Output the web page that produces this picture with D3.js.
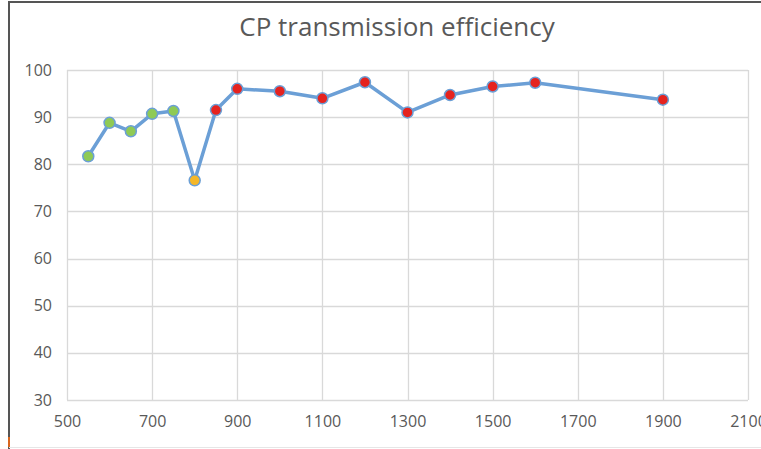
<!DOCTYPE html>
<html>
<head>
<meta charset="utf-8">
<script src="https://cdn.jsdelivr.net/npm/d3@7"></script>
<style>
  html, body { margin: 0; padding: 0; background: #fff; }
  svg { display: block; }
</style>
</head>
<body>
<div id="chart"></div>
<script>
// wavelength (x) and efficiency (y)
const xValues = [550, 600, 650, 700, 750, 800, 850, 900, 1000, 1100, 1200, 1300, 1400, 1500, 1600, 1900];
const yValues = [81.7, 88.8, 87.0, 90.7, 91.3, 76.6, 91.5, 96.0, 95.5, 94.0, 97.4, 91.0, 94.7, 96.5, 97.3, 93.7];
const pointGroups = ["g", "g", "g", "g", "g", "o", "r", "r", "r", "r", "r", "r", "r", "r", "r", "r"];
const xTicks = [500, 700, 900, 1100, 1300, 1500, 1700, 1900, 2100];
const yTicks = [30, 40, 50, 60, 70, 80, 90, 100];

const groupColor = {g: "#8fca55", o: "#f5b728", r: "#e5231f"};

const W = 761, H = 449;
const margin = {top: 70, right: 13, bottom: 49, left: 67};
const width = W - margin.left - margin.right;
const height = H - margin.top - margin.bottom;

const svg = d3.select("#chart")
    .append("svg")
    .attr("width", W)
    .attr("height", H);

// frame edges of the screenshot
svg.append("line").attr("x1", 9).attr("x2", W).attr("y1", 2).attr("y2", 2)
    .attr("stroke", "#555").attr("stroke-width", 2);
svg.append("line").attr("x1", 9).attr("x2", 9).attr("y1", 1).attr("y2", H)
    .attr("stroke", "#555").attr("stroke-width", 2);
svg.append("line").attr("x1", 9).attr("x2", W).attr("y1", 447.5).attr("y2", 447.5)
    .attr("stroke", "#e6e6e6").attr("stroke-width", 1);
svg.append("line").attr("x1", 9).attr("x2", 9).attr("y1", 437).attr("y2", 447)
    .attr("stroke", "#d9661e").attr("stroke-width", 2);

svg.append("text")
    .attr("x", 397).attr("y", 36)
    .attr("text-anchor", "middle")
    .attr("font-family", "'Open Sans', sans-serif")
    .attr("font-size", 26)
    .attr("fill", "#595959")
    .text("CP transmission efficiency");

const g = svg.append("g")
    .attr("transform", `translate(${margin.left},${margin.top})`);

const x = d3.scaleLinear().domain([500, 2100]).range([0, width]);
const y = d3.scaleLinear().domain([30, 100]).range([height, 0]);

// gridlines
g.append("g")
    .selectAll("line.h")
    .data(yTicks)
    .enter().append("line")
    .attr("x1", 0).attr("x2", width)
    .attr("y1", d => Math.round(y(d)) + 0.5).attr("y2", d => Math.round(y(d)) + 0.5)
    .attr("stroke", "#d9d9d9").attr("stroke-width", 1.3);

g.append("g")
    .selectAll("line.v")
    .data(xTicks)
    .enter().append("line")
    .attr("y1", 0).attr("y2", height)
    .attr("x1", d => Math.round(x(d)) + 0.5).attr("x2", d => Math.round(x(d)) + 0.5)
    .attr("stroke", "#d9d9d9").attr("stroke-width", 1.3);

// axes labels
const xAxis = g.append("g")
    .attr("transform", `translate(0,${height})`)
    .call(d3.axisBottom(x).tickValues(xTicks).tickSize(0).tickPadding(16).tickFormat(d3.format("d")));
const yAxis = g.append("g")
    .call(d3.axisLeft(y).tickValues(yTicks).tickSize(0).tickPadding(15));

[xAxis, yAxis].forEach(a => {
    a.select(".domain").remove();
    a.selectAll("text")
        .attr("font-family", "'Open Sans', sans-serif")
        .attr("font-size", 16)
        .attr("fill", "#595959");
});

const data = xValues.map((v, i) => ({x: v, y: yValues[i], grp: pointGroups[i]}));

g.append("path")
    .datum(data)
    .attr("fill", "none")
    .attr("stroke", "#6b9fd6")
    .attr("stroke-width", 3.5)
    .attr("stroke-linejoin", "round")
    .attr("d", d3.line().x(d => x(d.x)).y(d => y(d.y)));

g.selectAll("circle")
    .data(data)
    .enter().append("circle")
    .attr("cx", d => x(d.x))
    .attr("cy", d => y(d.y))
    .attr("r", 5.5)
    .attr("fill", d => groupColor[d.grp])
    .attr("stroke", "#6b9fd6")
    .attr("stroke-width", 1.5);
</script>
</body>
</html>
